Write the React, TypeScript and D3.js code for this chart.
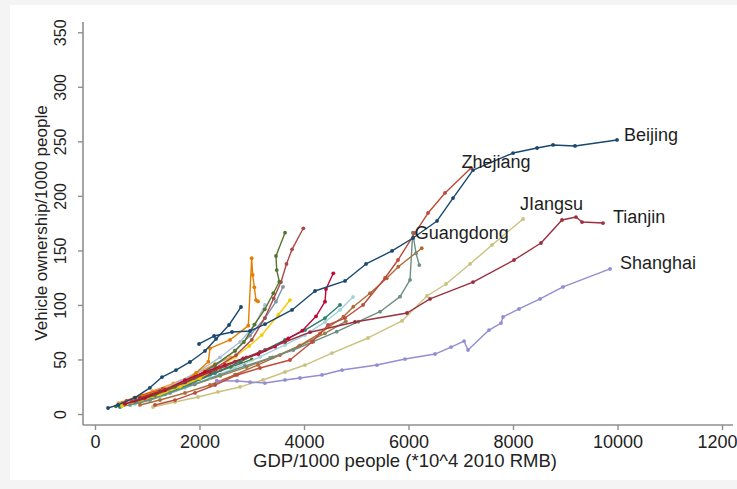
import React, { useEffect, useRef } from 'react';
import * as d3 from 'd3';

// x: GDP per 1000 people (*10^4 2010 RMB), y: vehicles per 1000 people
const beijing = [[1991, 64.2], [2278, 71.5], [2622, 75.2], [2967, 76.1], [3254, 82.5], [3771, 95.4], [4211, 112.8], [4785, 122], [5187, 137.6], [5685, 149.5], [6087, 161.4], [6546, 177], [6852, 198], [7235, 223.7], [8001, 239.3], [8460, 243.9], [8766, 246.7], [9187, 245.8], [9991, 251.3]];
const tianjin = [[861, 14.7], [1244, 21], [1723, 29], [2201, 38.5], [2680, 48], [3158, 57], [3637, 66], [4115, 75], [4976, 84.4], [5972, 92.6], [6412, 105.5], [7235, 121], [8020, 141.2], [8536, 156.8], [8938, 177.9], [9206, 180.6], [9321, 176], [9723, 175.1]];
const shanghai = [[2330, 30.5], [2718, 30.3], [2967, 29.3], [3254, 28.4], [3637, 31.2], [3924, 33], [4345, 35.8], [4728, 40.3], [5397, 44.9], [5933, 50.4], [6508, 55], [6814, 61.4], [7063, 66.9], [7139, 58.7], [7541, 77], [7771, 83.4], [7809, 89], [8115, 96.3], [8517, 105.5], [8958, 116.5], [9857, 133]];
const jiangsu = [[1110, 6.4], [1531, 11], [1971, 15.6], [2354, 20.2], [2775, 24.8], [3216, 31.2], [3637, 38.5], [4019, 44.9], [4536, 55.9], [5225, 69.7], [5876, 85.3], [6354, 108.2], [6718, 119.2], [7178, 137.6], [7599, 155], [8192, 178.8]];
const zhejiang = [[1148, 8.3], [1531, 12.8], [1914, 19.3], [2297, 26.6], [2718, 35.8], [3158, 42.2], [3732, 49.5], [4153, 66], [4460, 81.6], [4785, 88], [5130, 100], [5551, 124.7], [5799, 141.2], [6125, 166], [6374, 184.3], [6699, 202.7], [7197, 225.6]];
const guangdong = [[670, 8.3], [1053, 12.8], [1436, 19.3], [1914, 27.5], [2393, 35.8], [2871, 44], [3350, 51.4], [3796, 58.7], [4178, 66.3], [4626, 75.5], [5040, 84.6], [5455, 93.8], [5838, 107.6], [6029, 122.9], [6081, 166.3], [6144, 147.4], [6207, 136.6]];
const siennaLine = [[861, 8.3], [1244, 12.8], [1723, 19.3], [2201, 26.6], [2680, 36], [3120, 45], [3541, 54], [3924, 63], [4307, 74], [4753, 89.2], [4944, 98.4], [5264, 110.7], [5583, 124.4], [5805, 135], [6253, 152]];
const navyEarly = [[249, 5.5], [440, 8.3], [766, 15], [1050, 24], [1282, 33.9], [1550, 40.3], [1818, 47.7], [2105, 57.8], [2316, 68.8], [2565, 81.6], [2794, 98.1]];
const cranberryLine = [[574, 9.2], [957, 14.7], [1340, 22], [1723, 31], [2105, 38.5], [2488, 45], [2838, 51], [3126, 55], [3445, 61.7], [3700, 69.4], [3968, 76.4], [4230, 89.6], [4402, 103], [4421, 114.6], [4561, 129]];
const orangeSpike = [[520, 10.5], [900, 16.5], [1340, 23], [1723, 30.3], [1933, 37.6], [2169, 48], [2201, 60.2], [2584, 67.9], [2934, 81], [2999, 142.8], [3018, 127.5], [3049, 116.2], [3082, 104.5], [3120, 103.2]];
const greenSpike = [[766, 11], [1148, 17.4], [1531, 25], [1914, 34], [2297, 45], [2680, 58], [2850, 66], [3050, 82], [3250, 96], [3413, 110.7], [3528, 121.3], [3478, 132], [3464, 144.9], [3637, 166.3]];
const roseLine = [[700, 12], [1100, 18], [1500, 25], [1900, 33], [2300, 42], [2700, 54], [3000, 68], [3250, 88], [3420, 106], [3560, 121], [3665, 137.6], [3771, 151], [3987, 170.3]];
const goldLine = [[517, 7.3], [861, 11.9], [1244, 17.4], [1627, 24.8], [2010, 33], [2354, 42.2], [2680, 52.3], [2953, 62.4], [3191, 72.4], [3508, 90.8], [3732, 104.5]];
const slateLine = [[766, 11], [1148, 17], [1531, 24], [1914, 33], [2297, 44], [2680, 58], [2967, 72], [3254, 88], [3464, 103], [3598, 116.5]];
const paleBlueLine = [[478, 8.3], [861, 13.8], [1244, 21], [1627, 30], [2010, 40], [2393, 52], [2775, 66], [3062, 82], [3254, 100]];
const emeraldLine = [[478, 6.4], [861, 11], [1340, 18.3], [1818, 27.5], [2297, 37.6], [2775, 47.7], [3254, 58.7], [3637, 67.9], [4019, 77], [4402, 88], [4689, 100]];
const cyanLine = [[766, 9.2], [1244, 15.6], [1723, 23.8], [2201, 33], [2680, 42.2], [3158, 52.3], [3637, 63.3], [4019, 72.4], [4402, 84.4], [4689, 95.4], [4938, 107.3]];
const brownLine = [[700, 10], [1000, 14], [1400, 20], [1900, 27], [2400, 35], [2900, 43], [3400, 52], [3900, 62], [4400, 74], [4800, 85]];
const forestShort = [[400, 7], [700, 11], [1000, 16], [1400, 22], [1800, 29], [2200, 36], [2600, 43], [3000, 50]];
const eroseShort = [[500, 8], [800, 12], [1200, 18], [1600, 25], [2000, 32], [2400, 40], [2800, 48]];
const orangeShort = [[450, 10], [750, 15], [1100, 21], [1500, 28], [1900, 36], [2300, 46], [2600, 52]];
const redShort = [[600, 12], [900, 17], [1300, 23], [1700, 29], [2100, 35], [2500, 44], [2900, 52]];

const xTicks = [0, 2000, 4000, 6000, 8000, 10000, 12000];
const yTicks = [0, 50, 100, 150, 200, 250, 300, 350];

const series = [
  { pts: eroseShort, color: '#bfa19c' },
  { pts: forestShort, color: '#55752f' },
  { pts: orangeShort, color: '#f09a3a' },
  { pts: redShort, color: '#d2352f' },
  { pts: brownLine, color: '#9c7a47' },
  { pts: paleBlueLine, color: '#a9bfd9' },
  { pts: cyanLine, color: '#9fd3dc' },
  { pts: emeraldLine, color: '#2a7f6f' },
  { pts: slateLine, color: '#7b92a8' },
  { pts: goldLine, color: '#f5cc00' },
  { pts: roseLine, color: '#a84a48' },
  { pts: greenSpike, color: '#55752f' },
  { pts: orangeSpike, color: '#e37e00' },
  { pts: cranberryLine, color: '#c10534' },
  { pts: navyEarly, color: '#1a476f' },
  { pts: siennaLine, color: '#b06a35' },
  { pts: guangdong, color: '#6e8e84' },
  { pts: jiangsu, color: '#cac27e' },
  { pts: shanghai, color: '#938dd2' },
  { pts: tianjin, color: '#9b2f3f' },
  { pts: zhejiang, color: '#bd4a3a' },
  { pts: beijing, color: '#1a476f' },
];

// label text, the series it belongs to, which point it hangs on, pixel offset
const labels = [
  { text: 'Beijing', pts: beijing, at: beijing.length - 1, dx: 7, dy: 1 },
  { text: 'Zhejiang', pts: zhejiang, at: zhejiang.length - 1, dx: -9.5, dy: 0 },
  { text: 'JIangsu', pts: jiangsu, at: jiangsu.length - 1, dx: -3, dy: -9 },
  { text: 'Tianjin', pts: tianjin, at: tianjin.length - 1, dx: 10, dy: 0 },
  { text: 'Guangdong', pts: guangdong, at: 14, dx: 2, dy: 6 },
  { text: 'Shanghai', pts: shanghai, at: shanghai.length - 1, dx: 10, dy: 0 },
];

const FONT = "'Liberation Sans', Arial, Helvetica, sans-serif";

const App = () => {
  const ref = useRef(null);

  useEffect(() => {
    const width = 737;
    const height = 489;
    const svg = d3.select(ref.current);
    svg.selectAll('*').remove();

    svg.append('rect').attr('width', width).attr('height', height).attr('fill', '#f4f4f4');
    svg.append('rect').attr('x', 10).attr('y', 5).attr('width', width - 10).attr('height', 475).attr('fill', '#fff');

    const x = d3.scaleLinear().domain([0, 12000]).range([95, 722]);
    const y = d3.scaleLinear().domain([0, 350]).range([414, 32.3]);

    const axisX = 425;
    const axisY = 83;
    const axisColor = '#8f8f8f';

    // x axis
    const gx = svg.append('g').attr('transform', `translate(0,${axisX})`)
      .call(d3.axisBottom(x).tickValues(xTicks).tickSize(5).tickPadding(5).tickFormat(d3.format('d')));
    gx.select('.domain').remove();
    gx.selectAll('line').attr('stroke', axisColor).attr('stroke-width', 1.4);
    gx.selectAll('text').attr('fill', '#222').style('font-family', FONT).style('font-size', '18px');
    svg.append('line').attr('x1', axisY).attr('x2', 733).attr('y1', axisX).attr('y2', axisX)
      .attr('stroke', axisColor).attr('stroke-width', 1.6);

    // y axis
    const gy = svg.append('g').attr('transform', `translate(${axisY},0)`)
      .call(d3.axisLeft(y).tickValues(yTicks).tickSize(5).tickFormat(d3.format('d')));
    gy.select('.domain').remove();
    gy.selectAll('line').attr('stroke', axisColor).attr('stroke-width', 1.4);
    gy.selectAll('text')
      .attr('x', 0).attr('y', 0).attr('dy', 0)
      .attr('text-anchor', 'middle')
      .attr('transform', 'translate(-17,0) rotate(-90)')
      .attr('fill', '#222').style('font-family', FONT).style('font-size', '16px');
    svg.append('line').attr('x1', axisY).attr('x2', axisY).attr('y1', 22).attr('y2', axisX)
      .attr('stroke', axisColor).attr('stroke-width', 1.6);

    // titles
    svg.append('text').attr('x', 405).attr('y', 467).attr('text-anchor', 'middle')
      .attr('fill', '#222').style('font-family', FONT).style('font-size', '18.5px')
      .text('GDP/1000 people (*10^4 2010 RMB)');
    svg.append('text').attr('transform', 'translate(47,223) rotate(-90)').attr('text-anchor', 'middle')
      .attr('fill', '#222').style('font-family', FONT).style('font-size', '17px')
      .text('Vehicle ownership/1000 people');

    // province lines
    const line = d3.line().x(d => x(d[0])).y(d => y(d[1]));
    const plot = svg.append('g');
    series.forEach(s => {
      const g = plot.append('g');
      g.append('path').datum(s.pts).attr('d', line).attr('fill', 'none')
        .attr('stroke', s.color).attr('stroke-width', 1.4).attr('stroke-linejoin', 'round');
      g.selectAll('circle').data(s.pts).join('circle')
        .attr('cx', d => x(d[0])).attr('cy', d => y(d[1])).attr('r', 1.9).attr('fill', s.color);
    });

    // province names
    labels.forEach(l => {
      const p = l.pts[l.at];
      svg.append('text').attr('x', x(p[0]) + l.dx).attr('y', y(p[1]) + l.dy)
        .attr('fill', '#1e1e1e').style('font-family', FONT).style('font-size', '18px')
        .text(l.text);
    });
  }, []);

  return (
    <svg ref={ref} width={737} height={489}
      style={{ position: 'absolute', left: 0, top: 0, display: 'block' }} />
  );
};

export default App;
